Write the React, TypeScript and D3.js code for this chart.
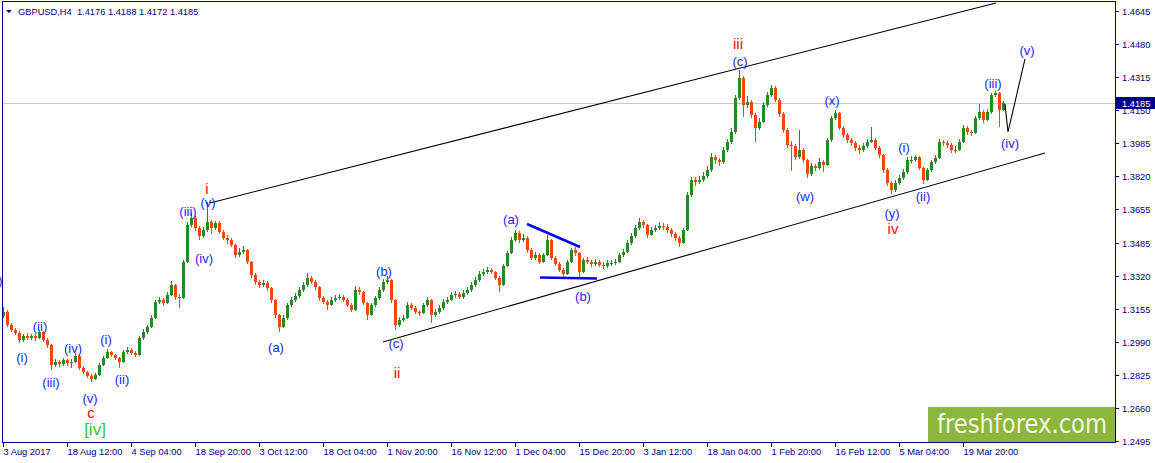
import * as d3 from 'd3';
import React, { useEffect, useRef } from 'react';

const width = 1155;
const height = 463;
const plot = { left: 2, top: 1, right: 1115, bottom: 442 };

// one candle per 4 H4 bars, open = previous close
const barsPerCandle = 4;
const firstOpen = 1.312;
const closes = [
  1.3140, 1.3075, 1.3050, 1.3035, 1.3000, 1.3020, 1.3010, 1.3020, 1.3010, 1.3040,
  1.3000, 1.2975, 1.2875, 1.2890, 1.2880, 1.2900, 1.2885, 1.2890, 1.2920, 1.2860,
  1.2840, 1.2820, 1.2805, 1.2825, 1.2875, 1.2910, 1.2940, 1.2925, 1.2910, 1.2890,
  1.2940, 1.2950, 1.2935, 1.2925, 1.3010, 1.3040, 1.3065, 1.3110, 1.3190, 1.3200,
  1.3185, 1.3225, 1.3275, 1.3215, 1.3210, 1.3390, 1.3575, 1.3610, 1.3560, 1.3520,
  1.3550, 1.3590, 1.3560, 1.3585, 1.3540, 1.3510, 1.3500, 1.3475, 1.3425, 1.3440,
  1.3450, 1.3390, 1.3325, 1.3290, 1.3275, 1.3285, 1.3260, 1.3200, 1.3125, 1.3065,
  1.3110, 1.3175, 1.3200, 1.3220, 1.3250, 1.3275, 1.3310, 1.3290, 1.3265, 1.3210,
  1.3190, 1.3175, 1.3200, 1.3210, 1.3215, 1.3200, 1.3175, 1.3150, 1.3250, 1.3240,
  1.3185, 1.3125, 1.3175, 1.3210, 1.3250, 1.3290, 1.3300, 1.3200, 1.3075, 1.3100,
  1.3110, 1.3175, 1.3160, 1.3140, 1.3135, 1.3175, 1.3200, 1.3125, 1.3140, 1.3160,
  1.3190, 1.3200, 1.3225, 1.3230, 1.3215, 1.3235, 1.3250, 1.3275, 1.3300, 1.3330,
  1.3340, 1.3350, 1.3340, 1.3310, 1.3275, 1.3370, 1.3435, 1.3500, 1.3535, 1.3500,
  1.3510, 1.3450, 1.3410, 1.3425, 1.3390, 1.3425, 1.3500, 1.3410, 1.3380, 1.3350,
  1.3330, 1.3390, 1.3450, 1.3435, 1.3340, 1.3400, 1.3390, 1.3380, 1.3390, 1.3375,
  1.3370, 1.3385, 1.3385, 1.3390, 1.3425, 1.3440, 1.3485, 1.3520, 1.3560, 1.3590,
  1.3575, 1.3525, 1.3550, 1.3560, 1.3570, 1.3565, 1.3550, 1.3530, 1.3510, 1.3485,
  1.3550, 1.3725, 1.3800, 1.3790, 1.3800, 1.3820, 1.3850, 1.3915, 1.3900, 1.3890,
  1.3950, 1.3990, 1.4040, 1.4210, 1.4310, 1.4175, 1.4190, 1.4125, 1.4060, 1.4090,
  1.4175, 1.4225, 1.4260, 1.4200, 1.4130, 1.4050, 1.3975, 1.3970, 1.3915, 1.3950,
  1.3900, 1.3830, 1.3870, 1.3860, 1.3890, 1.3875, 1.4000, 1.4110, 1.4135, 1.4060,
  1.4025, 1.4000, 1.3985, 1.3960, 1.3950, 1.3970, 1.3990, 1.4000, 1.3960, 1.3925,
  1.3850, 1.3785, 1.3750, 1.3785, 1.3810, 1.3840, 1.3900, 1.3900, 1.3915, 1.3860,
  1.3800, 1.3850, 1.3890, 1.3910, 1.3990, 1.3985, 1.3975, 1.3950, 1.3950, 1.3990,
  1.4060, 1.4040, 1.4035, 1.4110, 1.4140, 1.4100, 1.4140, 1.4225, 1.4235, 1.4150,
  1.4185,
];
const highs = [
  1.3165, 1.3150, 1.3085, 1.3060, 1.3045, 1.3030, 1.3035, 1.3030, 1.3030, 1.3050,
  1.3045, 1.3010, 1.2980, 1.2905, 1.2900, 1.2910, 1.2905, 1.2905, 1.2935, 1.2925,
  1.2870, 1.2845, 1.2830, 1.2835, 1.2885, 1.2920, 1.2955, 1.2945, 1.2930, 1.2915,
  1.2950, 1.2965, 1.2960, 1.2945, 1.3020, 1.3055, 1.3075, 1.3125, 1.3200, 1.3215,
  1.3210, 1.3240, 1.3295, 1.3280, 1.3230, 1.3400, 1.3590, 1.3635, 1.3620, 1.3570,
  1.3565, 1.3690, 1.3600, 1.3595, 1.3595, 1.3550, 1.3525, 1.3510, 1.3480, 1.3460,
  1.3470, 1.3455, 1.3395, 1.3335, 1.3300, 1.3300, 1.3295, 1.3265, 1.3205, 1.3130,
  1.3125, 1.3185, 1.3215, 1.3235, 1.3265, 1.3290, 1.3335, 1.3320, 1.3300, 1.3270,
  1.3220, 1.3200, 1.3215, 1.3225, 1.3230, 1.3225, 1.3210, 1.3185, 1.3270, 1.3265,
  1.3245, 1.3190, 1.3185, 1.3220, 1.3265, 1.3305, 1.3320, 1.3305, 1.3205, 1.3115,
  1.3125, 1.3190, 1.3185, 1.3170, 1.3150, 1.3185, 1.3215, 1.3205, 1.3155, 1.3175,
  1.3205, 1.3215, 1.3240, 1.3245, 1.3240, 1.3250, 1.3265, 1.3290, 1.3315, 1.3345,
  1.3355, 1.3365, 1.3360, 1.3345, 1.3320, 1.3380, 1.3445, 1.3515, 1.3550, 1.3545,
  1.3530, 1.3520, 1.3460, 1.3440, 1.3435, 1.3435, 1.3525, 1.3505, 1.3420, 1.3390,
  1.3360, 1.3400, 1.3460, 1.3465, 1.3440, 1.3410, 1.3415, 1.3400, 1.3405, 1.3400,
  1.3390, 1.3400, 1.3400, 1.3405, 1.3435, 1.3455, 1.3500, 1.3535, 1.3575, 1.3610,
  1.3600, 1.3580, 1.3565, 1.3575, 1.3590, 1.3585, 1.3580, 1.3560, 1.3540, 1.3520,
  1.3560, 1.3740, 1.3815, 1.3815, 1.3820, 1.3840, 1.3870, 1.3935, 1.3925, 1.3910,
  1.3965, 1.4005, 1.4060, 1.4225, 1.4350, 1.4320, 1.4220, 1.4200, 1.4135, 1.4110,
  1.4190, 1.4240, 1.4275, 1.4270, 1.4210, 1.4140, 1.4060, 1.3995, 1.3980, 1.4050,
  1.3960, 1.3905, 1.3885, 1.3880, 1.3910, 1.3900, 1.4010, 1.4120, 1.4150, 1.4140,
  1.4070, 1.4035, 1.4010, 1.3995, 1.3975, 1.3985, 1.4005, 1.4065, 1.4010, 1.3970,
  1.3930, 1.3860, 1.3795, 1.3800, 1.3825, 1.3855, 1.3915, 1.3920, 1.3925, 1.3920,
  1.3865, 1.3860, 1.3900, 1.3925, 1.4005, 1.4000, 1.3995, 1.3985, 1.3970, 1.4005,
  1.4075, 1.4070, 1.4050, 1.4120, 1.4180, 1.4150, 1.4155, 1.4235, 1.4245, 1.4240,
  1.4195,
];
const lows = [
  1.3110, 1.3065, 1.3040, 1.3025, 1.2985, 1.2990, 1.3000, 1.3000, 1.2995, 1.3005,
  1.2990, 1.2960, 1.2850, 1.2865, 1.2865, 1.2870, 1.2870, 1.2860, 1.2885, 1.2850,
  1.2830, 1.2810, 1.2790, 1.2800, 1.2820, 1.2870, 1.2905, 1.2915, 1.2900, 1.2860,
  1.2885, 1.2930, 1.2925, 1.2915, 1.2920, 1.3000, 1.3030, 1.3060, 1.3105, 1.3180,
  1.3170, 1.3180, 1.3220, 1.3200, 1.3160, 1.3205, 1.3385, 1.3565, 1.3545, 1.3500,
  1.3510, 1.3540, 1.3530, 1.3550, 1.3530, 1.3500, 1.3480, 1.3465, 1.3410, 1.3415,
  1.3430, 1.3380, 1.3310, 1.3275, 1.3260, 1.3265, 1.3245, 1.3185, 1.3110, 1.3040,
  1.3060, 1.3100, 1.3165, 1.3190, 1.3210, 1.3240, 1.3265, 1.3280, 1.3250, 1.3195,
  1.3180, 1.3150, 1.3170, 1.3190, 1.3200, 1.3190, 1.3165, 1.3140, 1.3145, 1.3225,
  1.3175, 1.3100, 1.3120, 1.3165, 1.3200, 1.3240, 1.3280, 1.3185, 1.3050, 1.3065,
  1.3090, 1.3105, 1.3150, 1.3130, 1.3120, 1.3130, 1.3165, 1.3085, 1.3115, 1.3130,
  1.3150, 1.3180, 1.3195, 1.3210, 1.3205, 1.3205, 1.3225, 1.3240, 1.3265, 1.3290,
  1.3320, 1.3330, 1.3330, 1.3300, 1.3240, 1.3270, 1.3365, 1.3430, 1.3490, 1.3485,
  1.3490, 1.3435, 1.3400, 1.3400, 1.3380, 1.3385, 1.3420, 1.3400, 1.3370, 1.3340,
  1.3315, 1.3325, 1.3385, 1.3420, 1.3315, 1.3335, 1.3380, 1.3365, 1.3370, 1.3365,
  1.3355, 1.3360, 1.3370, 1.3375, 1.3385, 1.3415, 1.3435, 1.3475, 1.3510, 1.3550,
  1.3560, 1.3510, 1.3520, 1.3540, 1.3550, 1.3550, 1.3535, 1.3515, 1.3495, 1.3465,
  1.3480, 1.3545, 1.3715, 1.3770, 1.3780, 1.3790, 1.3810, 1.3840, 1.3880, 1.3870,
  1.3880, 1.3940, 1.3980, 1.4030, 1.4200, 1.4115, 1.4160, 1.4110, 1.3990, 1.4050,
  1.4085, 1.4165, 1.4215, 1.4190, 1.4115, 1.4035, 1.3960, 1.3845, 1.3900, 1.3905,
  1.3885, 1.3810, 1.3820, 1.3845, 1.3850, 1.3840, 1.3870, 1.3990, 1.4100, 1.4050,
  1.4010, 1.3985, 1.3970, 1.3945, 1.3930, 1.3940, 1.3960, 1.3985, 1.3950, 1.3910,
  1.3835, 1.3770, 1.3730, 1.3740, 1.3775, 1.3800, 1.3830, 1.3885, 1.3890, 1.3850,
  1.3780, 1.3795, 1.3840, 1.3880, 1.3905, 1.3970, 1.3960, 1.3935, 1.3935, 1.3945,
  1.3985, 1.4025, 1.4020, 1.4030, 1.4100, 1.4085, 1.4095, 1.4130, 1.4215, 1.4065,
  1.4145,
];

const priceTicks = [
  1.4645, 1.448, 1.4315, 1.415, 1.3985, 1.382, 1.3655, 1.3485, 1.332, 1.3155, 1.299, 1.2825, 1.266, 1.2495,
];
const timeLabels = [
  '3 Aug 2017', '18 Aug 12:00', '4 Sep 04:00', '18 Sep 20:00', '3 Oct 12:00', '18 Oct 04:00',
  '1 Nov 20:00', '16 Nov 12:00', '1 Dec 04:00', '15 Dec 20:00', '3 Jan 12:00', '18 Jan 04:00',
  '1 Feb 20:00', '16 Feb 12:00', '5 Mar 04:00', '19 Mar 20:00',
];
const barsPerTimeLabel = 64;
const lastPrice = 1.4185;
const headerText = 'GBPUSD,H4  1.4176 1.4188 1.4172 1.4185';

// Elliott wave marks: [text, bar, price]
const minorLabels: [string, number, number][] = [
  ['(v)', -8, 1.33], ['(i)', 19, 1.2915], ['(ii)', 37, 1.307], ['(iii)', 48, 1.279], ['(iv)', 70, 1.296],
  ['(v)', 87, 1.271], ['(i)', 103, 1.3005], ['(ii)', 119, 1.2805], ['(iii)', 185, 1.3645],
  ['(v)', 205, 1.369], ['(iv)', 201, 1.341], ['(a)', 273, 1.2965], ['(b)', 381, 1.3345],
  ['(c)', 393, 1.2985], ['(a)', 508, 1.3605], ['(b)', 580, 1.322], ['(c)', 737, 1.4395],
  ['(w)', 802, 1.372], ['(x)', 829, 1.42], ['(y)', 889, 1.3635], ['(i)', 901, 1.3965],
  ['(ii)', 920, 1.372], ['(iii)', 990, 1.4285], ['(iv)', 1007, 1.3985], ['(v)', 1024, 1.445],
];
const majorLabels: [string, number, number][] = [
  ['c', 88, 1.264], ['i', 204, 1.376], ['ii', 394, 1.284], ['iii', 735, 1.4485], ['iv', 890, 1.356],
];
const cycleLabels: [string, number, number][] = [['[iv]', 92, 1.2555]];

const upperChannel: [number, number][] = [[207, 1.3685], [993, 1.4685]];
const lowerChannel: [number, number][] = [[380, 1.299], [1042, 1.3935]];
const projection: [number, number][] = [[1002, 1.418], [1005, 1.404], [1022, 1.4405]];
const triangleTop: [number, number][] = [[524, 1.358], [577, 1.3465]];
const triangleBase: [number, number][] = [[537, 1.33125], [594, 1.33075]];

const navy = '#000080';
const font = "'Liberation Sans', Arial, sans-serif";

const App: React.FC = () => {
  const ref = useRef<SVGSVGElement>(null);
  useEffect(() => {
    const svg = d3.select(ref.current);
    svg.selectAll('*').remove();
    const x = d3.scaleLinear().domain([0, 1000]).range([3, 1003]);
    const y = d3.scaleLinear().domain([1.2495, 1.4645]).range([441, 11]);

    svg.append('rect').attr('width', width).attr('height', height).attr('fill', '#fff');

    // last price line
    svg
      .append('line')
      .attr('x1', plot.left)
      .attr('x2', plot.right)
      .attr('y1', Math.round(y(lastPrice)) + 0.5)
      .attr('y2', Math.round(y(lastPrice)) + 0.5)
      .attr('stroke', '#c8c8c8');

    // candles
    const candles = closes.map((c, i) => ({
      bar: i * barsPerCandle,
      open: i === 0 ? firstOpen : closes[i - 1],
      close: c,
      high: highs[i],
      low: lows[i],
    }));
    const g = svg.append('g');
    candles.forEach((d) => {
      const col = d.close >= d.open ? '#228b22' : '#ff4500';
      const cx = Math.round(x(d.bar));
      g.append('line')
        .attr('x1', cx + 0.5)
        .attr('x2', cx + 0.5)
        .attr('y1', y(d.high))
        .attr('y2', y(d.low))
        .attr('stroke', col);
      const top = y(Math.max(d.open, d.close));
      const bot = y(Math.min(d.open, d.close));
      g.append('rect')
        .attr('x', cx - 1)
        .attr('y', top)
        .attr('width', 3)
        .attr('height', Math.max(1, bot - top))
        .attr('fill', col);
    });

    const line = d3
      .line<[number, number]>()
      .x((d) => x(d[0]))
      .y((d) => y(d[1]));
    [upperChannel, lowerChannel, projection].forEach((pts) => {
      svg.append('path').datum(pts).attr('d', line).attr('fill', 'none').attr('stroke', '#000').attr('stroke-width', 1.1);
    });
    [triangleTop, triangleBase].forEach((pts) => {
      svg.append('path').datum(pts).attr('d', line).attr('fill', 'none').attr('stroke', '#0000ff').attr('stroke-width', 2.5);
    });

    // wave labels
    const addLabels = (list: [string, number, number][], color: string, size: number) => {
      list.forEach(([t, b, p]) => {
        svg
          .append('text')
          .attr('x', x(b))
          .attr('y', y(p))
          .attr('text-anchor', 'middle')
          .attr('dominant-baseline', 'central')
          .attr('font-family', font)
          .attr('font-size', size)
          .attr('fill', color)
          .text(t);
      });
    };
    addLabels(minorLabels, '#2222ff', 13);
    addLabels(majorLabels, '#ee1100', 15);
    addLabels(cycleLabels, '#33c433', 17);

    // frame
    svg
      .append('rect')
      .attr('x', plot.left + 0.5)
      .attr('y', plot.top + 0.5)
      .attr('width', plot.right - plot.left)
      .attr('height', plot.bottom - plot.top)
      .attr('fill', 'none')
      .attr('stroke', navy);

    // price axis
    priceTicks.forEach((p) => {
      const ty = Math.round(y(p)) + 0.5;
      svg.append('line').attr('x1', plot.right).attr('x2', plot.right + 4).attr('y1', ty).attr('y2', ty).attr('stroke', navy);
      svg
        .append('text')
        .attr('x', plot.right + 7)
        .attr('y', ty + 3.5)
        .attr('font-family', font)
        .attr('font-size', 9.3)
        .attr('fill', navy)
        .text(d3.format('.4f')(p));
    });
    const ly = Math.round(y(lastPrice));
    svg.append('rect').attr('x', plot.right + 1).attr('y', ly - 6).attr('width', width - plot.right - 1).attr('height', 12).attr('fill', navy);
    svg
      .append('text')
      .attr('x', plot.right + 7)
      .attr('y', ly + 3.5)
      .attr('font-family', font)
      .attr('font-size', 9.3)
      .attr('fill', '#fff')
      .text(d3.format('.4f')(lastPrice));

    // time axis
    timeLabels.forEach((t, k) => {
      const tx = Math.round(x(k * barsPerTimeLabel)) + 0.5;
      svg.append('line').attr('x1', tx).attr('x2', tx).attr('y1', plot.bottom).attr('y2', plot.bottom + 5).attr('stroke', navy);
      svg
        .append('text')
        .attr('x', tx)
        .attr('y', 455)
        .attr('font-family', font)
        .attr('font-size', 9.3)
        .attr('fill', navy)
        .text(t);
    });

    // header
    svg.append('path').attr('d', 'M6,10 L12,10 L9,13 Z').attr('fill', navy);
    svg
      .append('text')
      .attr('x', 18)
      .attr('y', 14.5)
      .attr('font-family', font)
      .attr('font-size', 9.3)
      .attr('fill', navy)
      .attr('xml:space', 'preserve')
      .style('white-space', 'pre')
      .text(headerText);

    // logo
    svg.append('rect').attr('x', 928).attr('y', 407).attr('width', plot.right - 928).attr('height', plot.bottom - 407).attr('fill', '#8cb63c');
    svg
      .append('text')
      .attr('x', 937)
      .attr('y', 433)
      .attr('font-family', "'DejaVu Sans', sans-serif")
      .attr('font-size', 26)
      .attr('fill', '#f3f7e6')
      .attr('textLength', 170)
      .attr('lengthAdjust', 'spacingAndGlyphs')
      .text('freshforex.com');
  }, []);
  return (
    <div style={{ position: 'absolute', left: 0, top: 0 }}>
      <svg ref={ref} width={width} height={height} style={{ display: 'block' }}></svg>
    </div>
  );
};

export default App;
